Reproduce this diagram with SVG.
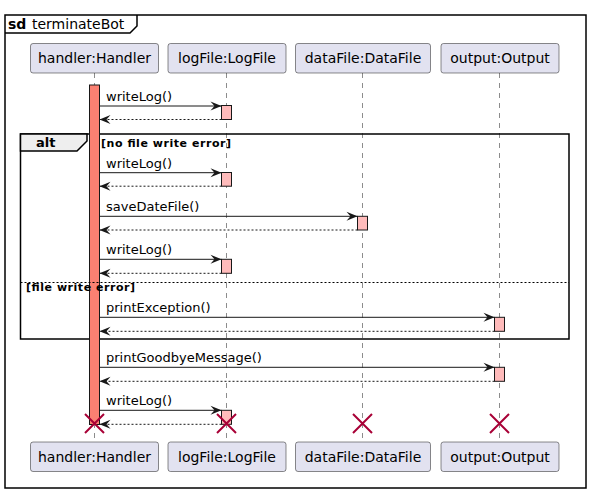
<svg xmlns="http://www.w3.org/2000/svg" width="591" height="493" viewBox="0 0 591 493">
<style>
text{font-family:"DejaVu Sans","Liberation Sans",sans-serif;fill:#000}
.pbox{fill:#E2E2F0;stroke:#181818;stroke-width:0.5}
.pt{font-size:14px;text-anchor:middle}
.life{stroke:#181818;stroke-width:0.5;stroke-dasharray:5,5;fill:none}
.msg{stroke:#181818;stroke-width:1;fill:none;marker-end:url(#ah)}
.ret{stroke:#181818;stroke-width:1;fill:none;stroke-dasharray:2,2;marker-end:url(#ah)}
.ml{font-size:13px}
.act{fill:#FFBBBB;stroke:#181818;stroke-width:1}
.frame{fill:none;stroke:#000;stroke-width:1.5}
.guard{font-size:11px;font-weight:bold}
.x{stroke:#A80036;stroke-width:2;fill:none}
</style>
<defs>
<marker id="ah" markerUnits="userSpaceOnUse" markerWidth="12" markerHeight="10" refX="11" refY="5" orient="auto" overflow="visible">
<path d="M0,0.5 L11,5 L0,9.5 L4,5 Z" fill="#181818"/>
</marker>
</defs>
<rect width="591" height="493" fill="#fff"/>
<g id="frame">
<rect class="frame" x="5" y="15" width="581" height="473"/>
<path d="M5,33 L130,33 L137,26 L137,15" fill="none" stroke="#000" stroke-width="1.5"/>
<text x="8" y="29" font-size="14" font-weight="bold">sd</text>
<text x="32" y="29" font-size="14">terminateBot</text>
</g>
<g id="lifelines">
<line class="life" x1="94.5" y1="73" x2="94.5" y2="442"/>
<line class="life" x1="226.5" y1="73" x2="226.5" y2="442"/>
<line class="life" x1="362.5" y1="73" x2="362.5" y2="442"/>
<line class="life" x1="499.5" y1="73" x2="499.5" y2="442"/>
</g>
<g id="handler">
<rect class="pbox" x="30.5" y="43.5" width="128" height="29.5" rx="2.5"/>
<text class="pt" x="94.5" y="63">handler:Handler</text>
<rect class="pbox" x="30.5" y="442" width="128" height="29.5" rx="2.5"/>
<text class="pt" x="94.5" y="461.5">handler:Handler</text>
</g>
<g id="logFile">
<rect class="pbox" x="168" y="43.5" width="118" height="29.5" rx="2.5"/>
<text class="pt" x="227" y="63">logFile:LogFile</text>
<rect class="pbox" x="168" y="442" width="118" height="29.5" rx="2.5"/>
<text class="pt" x="227" y="461.5">logFile:LogFile</text>
</g>
<g id="dataFile">
<rect class="pbox" x="295.5" y="43.5" width="135" height="29.5" rx="2.5"/>
<text class="pt" x="363" y="63">dataFile:DataFile</text>
<rect class="pbox" x="295.5" y="442" width="135" height="29.5" rx="2.5"/>
<text class="pt" x="363" y="461.5">dataFile:DataFile</text>
</g>
<g id="output">
<rect class="pbox" x="441" y="43.5" width="118" height="29.5" rx="2.5"/>
<text class="pt" x="500" y="63">output:Output</text>
<rect class="pbox" x="441" y="442" width="118" height="29.5" rx="2.5"/>
<text class="pt" x="500" y="461.5">output:Output</text>
</g>
<g id="alt">
<rect class="frame" x="20.5" y="134" width="548.5" height="205"/>
<path d="M20.5,134 L87,134 L87,141 L77,151 L20.5,151 Z" fill="#EEEEEE" stroke="#000" stroke-width="1.5"/>
<text x="36" y="147" font-size="13" font-weight="bold">alt</text>
</g>
<g id="handlerActivation">
<rect x="89.5" y="85" width="10" height="339.5" fill="#FA8072" stroke="#181818" stroke-width="1"/>
</g>
<g id="altSection">
<line x1="20.5" y1="282.5" x2="569" y2="282.5" stroke="#000" stroke-width="1" stroke-dasharray="2,2"/>
<text class="guard" x="101" y="147" textLength="130" lengthAdjust="spacing">[no file write error]</text>
<text class="guard" x="26" y="291" textLength="109" lengthAdjust="spacing">[file write error]</text>
</g>
<g id="activations">
<rect class="act" x="221.5" y="105.5" width="10" height="14"/>
<rect class="act" x="221.5" y="172.5" width="10" height="13.7"/>
<rect class="act" x="357.5" y="216.3" width="10" height="13.7"/>
<rect class="act" x="221.5" y="259.3" width="10" height="14"/>
<rect class="act" x="494.5" y="317.3" width="10" height="14"/>
<rect class="act" x="494.5" y="367.3" width="10" height="14"/>
<rect class="act" x="221.5" y="410.3" width="10" height="14"/>
</g>
<g id="connectors">
<line class="msg" x1="99.5" y1="106" x2="221.5" y2="106"/>
<text class="ml" x="106" y="101">writeLog()</text>
<line class="ret" x1="221.5" y1="119.5" x2="99.5" y2="119.5"/>
<line class="msg" x1="99.5" y1="172.7" x2="221.5" y2="172.7"/>
<text class="ml" x="106" y="167.7">writeLog()</text>
<line class="ret" x1="221.5" y1="186.2" x2="99.5" y2="186.2"/>
<line class="msg" x1="99.5" y1="216.3" x2="357.5" y2="216.3"/>
<text class="ml" x="106" y="211.3">saveDateFile()</text>
<line class="ret" x1="357.5" y1="230" x2="99.5" y2="230"/>
<line class="msg" x1="99.5" y1="259.3" x2="221.5" y2="259.3"/>
<text class="ml" x="106" y="254.3">writeLog()</text>
<line class="ret" x1="221.5" y1="273.3" x2="99.5" y2="273.3"/>
<line class="msg" x1="99.5" y1="317.3" x2="494.5" y2="317.3"/>
<text class="ml" x="106" y="312.3">printException()</text>
<line class="ret" x1="494.5" y1="331.3" x2="99.5" y2="331.3"/>
<line class="msg" x1="99.5" y1="367.3" x2="494.5" y2="367.3"/>
<text class="ml" x="106" y="362.3">printGoodbyeMessage()</text>
<line class="ret" x1="494.5" y1="381.3" x2="99.5" y2="381.3"/>
<line class="msg" x1="99.5" y1="410.3" x2="221.5" y2="410.3"/>
<text class="ml" x="106" y="405.3">writeLog()</text>
<line class="ret" x1="221.5" y1="424.3" x2="99.5" y2="424.3"/>
</g>
<g id="destroy">
<path class="x" d="M85,414 L104,433 M104,414 L85,433"/>
<path class="x" d="M217,414 L236,433 M236,414 L217,433"/>
<path class="x" d="M353,414 L372,433 M372,414 L353,433"/>
<path class="x" d="M490,414 L509,433 M509,414 L490,433"/>
</g>
</svg>
